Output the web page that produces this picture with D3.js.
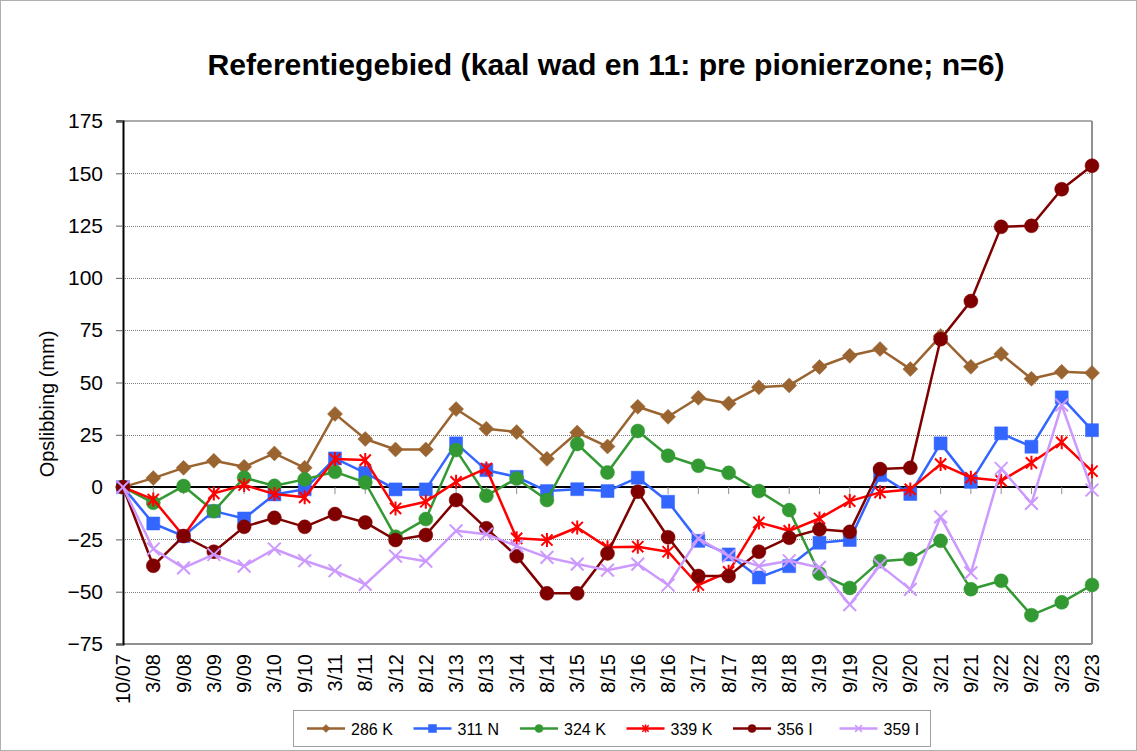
<!DOCTYPE html>
<html>
<head>
<meta charset="utf-8">
<script src="https://cdn.jsdelivr.net/npm/d3@7.9.0/dist/d3.min.js"></script>
<style>
  body { margin: 0; background: #fff; }
  svg { font-family: "Liberation Sans", Arial, sans-serif; }
</style>
</head>
<body>
<svg id="chart" width="1137" height="751"></svg>
<script>
const categories = ['10/07','3/08','9/08','3/09','9/09','3/10','9/10','3/11','8/11','3/12','8/12','3/13','8/13','3/14','8/14','3/15','8/15','3/16','8/16','3/17','8/17','3/18','8/18','3/19','9/19','3/20','9/20','3/21','9/21','3/22','9/22','3/23','9/23'];

const s286K = [0, 4.3, 9.2, 12.6, 9.7, 16.1, 9.2, 35, 23, 18, 18, 37.3, 27.9, 26.3, 13.5, 26.1, 19.4, 38.4, 33.6, 42.7, 40, 47.7, 48.6, 57.4, 62.8, 66, 56.4, 72.2, 57.5, 63.6, 51.8, 55.1, 54.6];
const s311N = [0, -17.4, -23.4, -11.5, -15, -3.5, -1, 13.7, 6.8, -1.1, -1.1, 20.9, 8.1, 4.9, -1.9, -1, -1.9, 4.5, -7, -25.7, -32.2, -43.2, -37.8, -26.6, -25.3, 5.7, -3.3, 20.9, 2.5, 25.7, 19.3, 42.9, 27.2];
const s324K = [0, -7.5, 0.5, -11.5, 4.5, 0.6, 3.7, 7.3, 2.2, -23.7, -15.3, 17.7, -4.1, 4.1, -6.2, 20.6, 7, 26.8, 15, 10.2, 6.8, -1.9, -11, -41.3, -48.2, -35.4, -34.4, -25.7, -48.8, -44.8, -61.2, -55.1, -46.8];
const s339K = [0, -5.9, -23.4, -3, 1, -3.3, -4.9, 13.4, 12.9, -10.2, -7, 2.5, 8.9, -24.5, -25.3, -19.3, -28.8, -28.5, -30.9, -46.8, -40.5, -16.9, -20.9, -15, -6.7, -2.5, -1.1, 11, 4.5, 3, 11.6, 21.4, 7.6];
const s356I = [0, -37.6, -23.4, -30.9, -19, -14.7, -19, -12.9, -16.9, -25.3, -22.9, -6.2, -19.7, -33, -50.8, -50.8, -31.7, -2.2, -24, -42.5, -42.5, -30.9, -24.2, -20.2, -21.4, 8.6, 9.2, 70.7, 88.9, 124.4, 124.9, 142.4, 153.6];
const s359I = [0, -29.6, -38.6, -32.2, -37.8, -29.6, -35.2, -40, -46.5, -33, -35.4, -20.9, -22.5, -28.2, -33.6, -36.8, -39.7, -36.8, -46.8, -24.5, -33, -37.8, -35.2, -38.4, -56.2, -37.3, -48.9, -14.2, -41, 8.9, -7.8, 39.2, -1.4];

const yTicks = [-75, -50, -25, 0, 25, 50, 75, 100, 125, 150, 175];

const series = [
  { name: '286 K', values: s286K, color: '#9a6431', marker: 'diamond' },
  { name: '311 N', values: s311N, color: '#3366ff', marker: 'square' },
  { name: '324 K', values: s324K, color: '#339933', marker: 'circle' },
  { name: '339 K', values: s339K, color: '#ff0000', marker: 'star' },
  { name: '356 I', values: s356I, color: '#800000', marker: 'circle' },
  { name: '359 I', values: s359I, color: '#cc99ff', marker: 'x' }
];

const svg = d3.select('#chart');
const W = 1137, H = 751;
const m = { left: 123, right: 1092, top: 121, bottom: 644 };

// outer chart border
svg.append('rect')
  .attr('x', 0.5).attr('y', 0.5).attr('width', W - 1).attr('height', H - 1)
  .attr('fill', '#fff').attr('stroke', '#b0b0b0');

const x = d3.scalePoint().domain(categories).range([m.left, m.right]).padding(0);
const y = d3.scaleLinear().domain([-75, 175]).range([m.bottom, m.top]);

// title
svg.append('text')
  .attr('x', 606).attr('y', 75)
  .attr('text-anchor', 'middle')
  .attr('font-size', 30).attr('font-weight', 'bold')
  .attr('textLength', 797).attr('lengthAdjust', 'spacingAndGlyphs')
  .text('Referentiegebied (kaal wad en 11: pre pionierzone; n=6)');

// grid lines
svg.append('g').selectAll('line')
  .data(yTicks.filter(d => d !== 0 && d !== 175 && d !== -75))
  .join('line')
  .attr('x1', m.left).attr('x2', m.right)
  .attr('y1', d => Math.round(y(d)) + 0.5).attr('y2', d => Math.round(y(d)) + 0.5)
  .attr('stroke', '#808080').attr('stroke-dasharray', '1,1');

// plot frame: top, right, bottom
svg.append('line').attr('x1', m.left - 6).attr('x2', m.right).attr('y1', m.top).attr('y2', m.top)
  .attr('stroke', '#909090').attr('stroke-width', 1.5);
svg.append('line').attr('x1', m.right).attr('x2', m.right).attr('y1', m.top).attr('y2', m.bottom)
  .attr('stroke', '#909090').attr('stroke-width', 2);
svg.append('line').attr('x1', m.left).attr('x2', m.right).attr('y1', m.bottom).attr('y2', m.bottom)
  .attr('stroke', '#909090').attr('stroke-width', 2);

// y axis
const yAxis = svg.append('g')
  .attr('transform', `translate(${m.left},0)`)
  .call(d3.axisLeft(y).tickValues(yTicks).tickSize(7).tickPadding(13).tickFormat(d3.format('d')));
yAxis.select('.domain').attr('stroke', '#000').attr('stroke-width', 2);
yAxis.selectAll('.tick line').attr('stroke', '#606060');
yAxis.selectAll('.tick text').attr('font-size', 21).attr('fill', '#000')
  .attr('font-family', '"Liberation Sans", Arial, sans-serif');

svg.append('text')
  .attr('transform', `translate(54,404) rotate(-90)`)
  .attr('text-anchor', 'middle')
  .attr('font-size', 20)
  .text('Opslibbing (mm)');

// category axis at zero
const y0 = y(0);
svg.append('line').attr('x1', m.left).attr('x2', m.right).attr('y1', y0).attr('y2', y0)
  .attr('stroke', '#000').attr('stroke-width', 2);
svg.append('g').selectAll('line')
  .data(categories)
  .join('line')
  .attr('x1', d => x(d)).attr('x2', d => x(d))
  .attr('y1', y0).attr('y2', y0 + 7)
  .attr('stroke', '#909090');

// category labels at bottom
svg.append('g').selectAll('text')
  .data(categories)
  .join('text')
  .attr('transform', d => `translate(${x(d) + 7},${m.bottom + 10}) rotate(-90)`)
  .attr('text-anchor', 'end')
  .attr('font-size', 20)
  .text(d => d);

// markers
function markerPath(type, s) {
  if (type === 'diamond') return `M0,${-s}L${s},0L0,${s}L${-s},0Z`;
  if (type === 'square') return `M${-s},${-s}H${s}V${s}H${-s}Z`;
  if (type === 'circle') return d3.symbol(d3.symbolCircle, Math.PI * s * s)();
  if (type === 'star') {
    const d = s * 0.8;
    return `M0,${-s}V${s}M${-d},${-d}L${d},${d}M${-d},${d}L${d},${-d}`;
  }
  const d = s * 0.85;
  return `M${-d},${-d}L${d},${d}M${-d},${d}L${d},${-d}`;
}
const markerSize = { diamond: 7.5, square: 6.5, circle: 7, star: 7, x: 7.5 };

const line = d3.line().x((d, i) => x(categories[i])).y(d => y(d));

series.forEach(s => {
  const g = svg.append('g');
  g.append('path')
    .attr('d', line(s.values))
    .attr('fill', 'none')
    .attr('stroke', s.color)
    .attr('stroke-width', 2.5)
    .attr('stroke-linejoin', 'round');
  const filled = s.marker === 'diamond' || s.marker === 'square' || s.marker === 'circle';
  g.selectAll('path.mk')
    .data(s.values)
    .join('path')
    .attr('class', 'mk')
    .attr('transform', (d, i) => `translate(${x(categories[i])},${y(d)})`)
    .attr('d', markerPath(s.marker, markerSize[s.marker]))
    .attr('fill', filled ? s.color : 'none')
    .attr('stroke', s.color)
    .attr('stroke-width', filled ? 0.5 : 2);
});

// legend
const lg = svg.append('g');
lg.append('rect')
  .attr('x', 293.5).attr('y', 710.5).attr('width', 637).attr('height', 36)
  .attr('fill', '#fff').attr('stroke', '#a0a0a0');
series.forEach((s, i) => {
  const lx = 307 + i * 106.5;
  const ly = 728.5;
  lg.append('line').attr('x1', lx).attr('x2', lx + 38).attr('y1', ly).attr('y2', ly)
    .attr('stroke', s.color).attr('stroke-width', 2.5);
  const filled = s.marker === 'diamond' || s.marker === 'square' || s.marker === 'circle';
  lg.append('path')
    .attr('transform', `translate(${lx + 19},${ly})`)
    .attr('d', markerPath(s.marker, 4))
    .attr('fill', filled ? s.color : 'none')
    .attr('stroke', s.color).attr('stroke-width', filled ? 0.5 : 1.5);
  lg.append('text')
    .attr('x', lx + 44).attr('y', ly + 6)
    .attr('font-size', 16)
    .text(s.name);
});
</script>
</body>
</html>
